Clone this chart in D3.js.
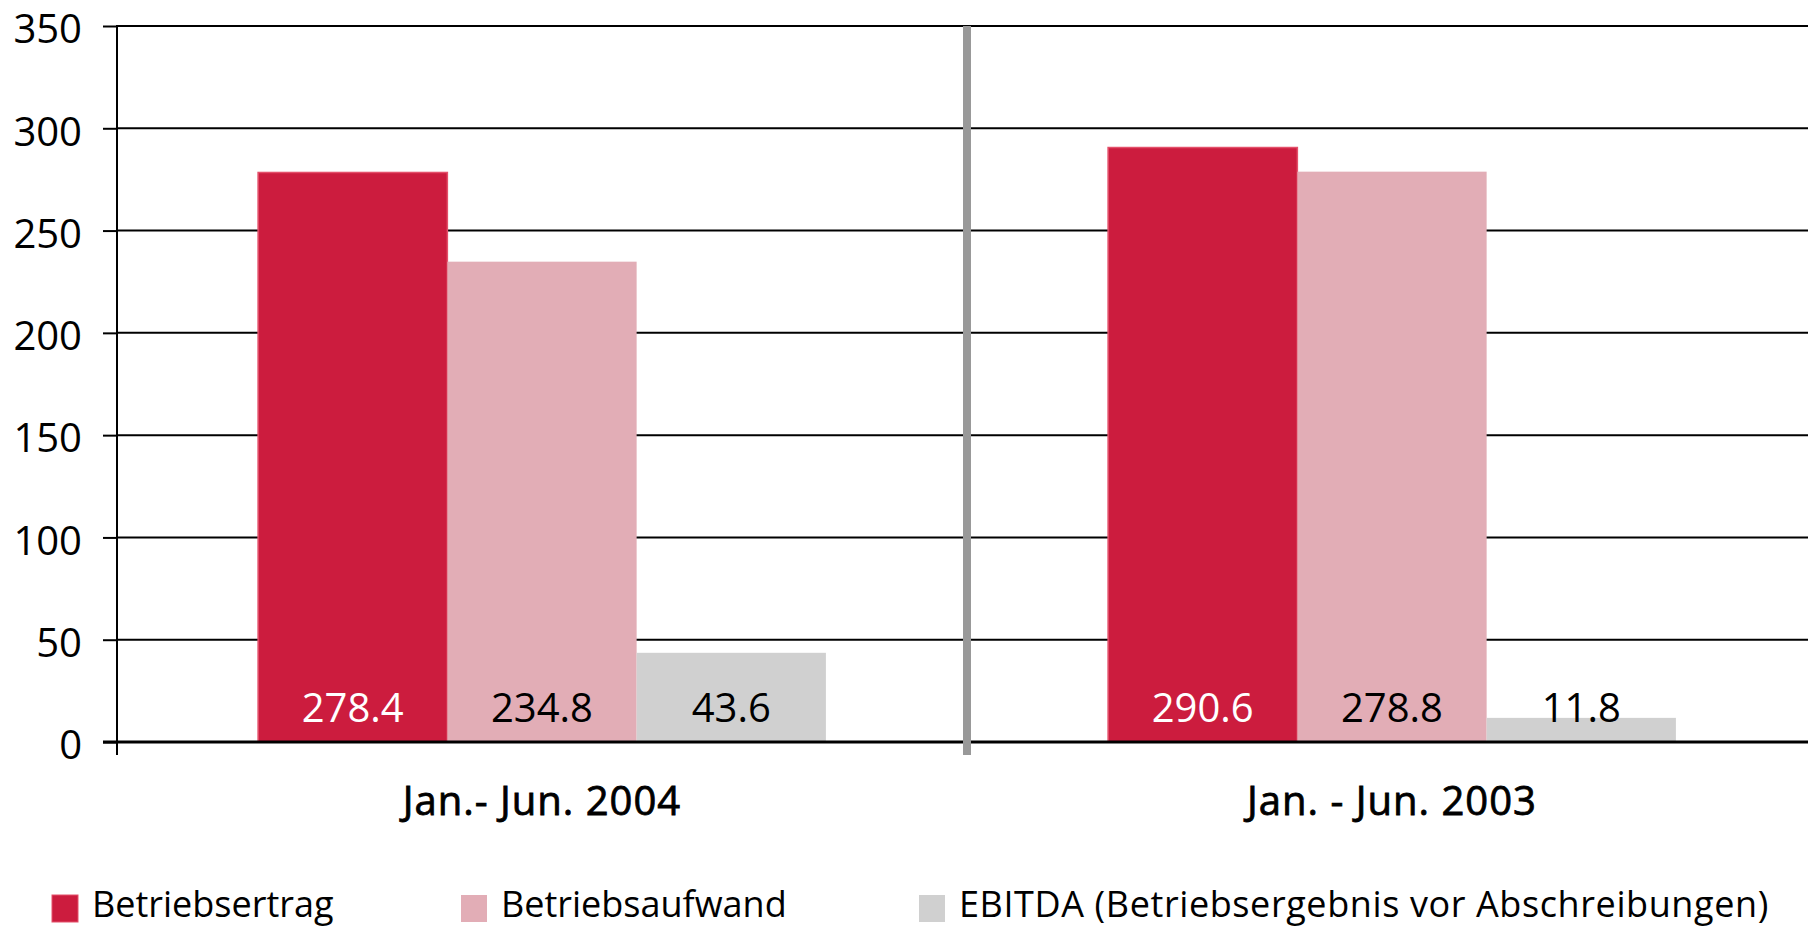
<!DOCTYPE html>
<html lang="de">
<head>
<meta charset="UTF-8">
<title>Betriebsertrag / Betriebsaufwand / EBITDA</title>
<script src="https://d3js.org/d3.v7.min.js"></script>
<style>
  html, body { margin: 0; padding: 0; background: #fff; }
  svg, svg text { font-family: "Open Sans", "Noto Sans", sans-serif; }
  svg { display: block; }
</style>
</head>
<body>
<div id="chart"></div>
<script>
// data
const periods = ["Jan.- Jun. 2004", "Jan. - Jun. 2003"];
const seriesNames = ["Betriebsertrag", "Betriebsaufwand", "EBITDA (Betriebsergebnis vor Abschreibungen)"];
const betriebsertrag = [278.4, 290.6];
const betriebsaufwand = [234.8, 278.8];
const ebitda = [43.6, 11.8];
const yTicks = [0, 50, 100, 150, 200, 250, 300, 350];

const colors = ["#cc1c3e", "#e2adb6", "#d0d0d0"];
const labelColors = ["#fff", "#000", "#000"];

const width = 1808, height = 927;

const svg = d3.select("#chart")
  .append("svg")
    .attr("width", width)
    .attr("height", height);

// scales
const y = d3.scaleLinear().domain([0, 350]).range([742, 26]);
const x = d3.scaleBand()
  .domain(periods)
  .range([117, 1817])
  .paddingInner(0.332)
  .paddingOuter(0.166);
const xs = d3.scaleBand()
  .domain(d3.range(seriesNames.length))
  .range([0, x.bandwidth()]);

// gridlines + y labels
const yAxis = svg.append("g")
  .attr("transform", "translate(117,0)")
  .call(d3.axisLeft(y).tickValues(yTicks).tickSize(14).tickPadding(21)
    .tickSizeOuter(0));
yAxis.attr("font-family", null).attr("font-size", null);
yAxis.select(".domain").remove();
yAxis.selectAll(".tick line").attr("stroke", "#000").attr("stroke-width", 2);
yAxis.selectAll(".tick text")
  .attr("fill", "#000")
  .style("font-family", "'Open Sans', 'Noto Sans', sans-serif")
  .style("font-size", "40px")
  .attr("dy", "0.42em");

svg.append("g")
  .selectAll("line")
  .data(yTicks.filter(d => d > 0))
  .join("line")
    .attr("x1", 117)
    .attr("x2", width)
    .attr("y1", d => y(d))
    .attr("y2", d => y(d))
    .attr("stroke", "#000")
    .attr("stroke-width", 2);

// bars
const rows = [];
periods.forEach((p, i) => {
  [betriebsertrag, betriebsaufwand, ebitda].forEach((s, j) => {
    rows.push({ period: p, series: j, value: s[i] });
  });
});

svg.append("g")
  .selectAll("rect")
  .data(rows)
  .join("rect")
    .attr("x", d => x(d.period) + xs(d.series))
    .attr("y", d => y(d.value))
    .attr("width", xs.bandwidth())
    .attr("height", d => y(0) - y(d.value))
    .attr("fill", d => colors[d.series])
    .attr("stroke", d => d.series === 0 ? "#e4506a" : "none")
    .attr("stroke-width", 1.5);

// value labels
svg.append("g")
  .selectAll("text")
  .data(rows)
  .join("text")
    .attr("x", d => x(d.period) + xs(d.series) + xs.bandwidth() / 2)
    .attr("y", 722)
    .attr("text-anchor", "middle")
    .attr("fill", d => labelColors[d.series])
    .style("font-size", "40px")
    .text(d => d.value.toFixed(1));

// x baseline + y axis line
svg.append("line")
  .attr("x1", 103).attr("x2", width)
  .attr("y1", y(0)).attr("y2", y(0))
  .attr("stroke", "#000").attr("stroke-width", 3);
svg.append("line")
  .attr("x1", 117).attr("x2", 117)
  .attr("y1", y(350) - 1).attr("y2", 755)
  .attr("stroke", "#000").attr("stroke-width", 2);

// separator between periods
const sepX = x(periods[1]) - x.step() * x.paddingInner() / 2;
svg.append("line")
  .attr("x1", sepX).attr("x2", sepX)
  .attr("y1", y(350)).attr("y2", 755)
  .attr("stroke", "#999").attr("stroke-width", 8);

// period labels
svg.append("g")
  .selectAll("text")
  .data(periods)
  .join("text")
    .attr("x", d => x(d) + x.bandwidth() / 2)
    .attr("y", 815)
    .attr("text-anchor", "middle")
    .attr("fill", "#000")
    .attr("stroke", "#000")
    .attr("stroke-width", 0.8)
    .style("font-size", "40px")
    .style("letter-spacing", "1px")
    .text(d => d);

// legend
const legendX = [52, 461, 919];
const legend = svg.append("g")
  .selectAll("g")
  .data(seriesNames)
  .join("g")
    .attr("transform", (d, i) => `translate(${legendX[i]},895)`);
legend.append("rect")
  .attr("width", 26)
  .attr("height", 27)
  .attr("fill", (d, i) => colors[i])
  .attr("stroke", (d, i) => i === 0 ? "#e4506a" : "none");
legend.append("text")
  .attr("x", 40)
  .attr("y", 22)
  .attr("fill", "#000")
  .style("font-size", "36px")
  .style("letter-spacing", (d, i) => i === 2 ? "0.6px" : "0px")
  .text(d => d);
</script>
</body>
</html>
